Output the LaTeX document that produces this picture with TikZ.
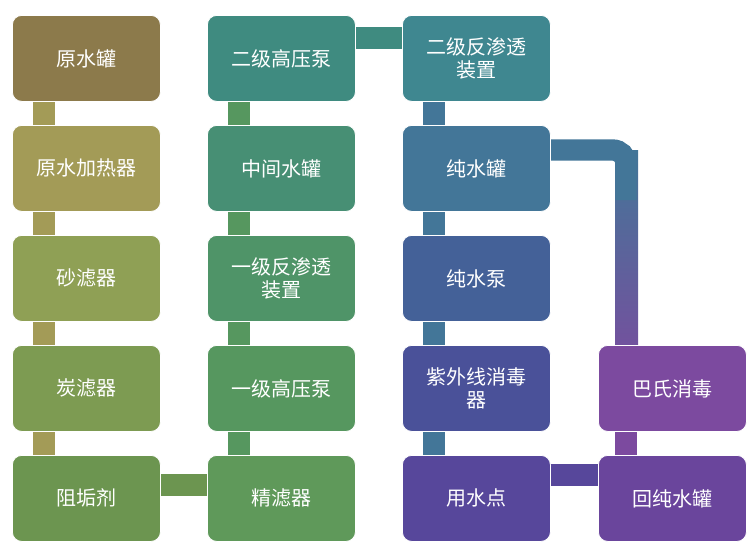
\documentclass[tikz,border=0pt]{standalone}
\usepackage{fontspec}
\setmainfont{Noto Sans CJK SC}
\begin{document}
\begin{tikzpicture}[x=0.75pt,y=-0.75pt,
 box/.style={rounded corners=7pt,draw=white,line width=0.6pt,minimum width=111pt,minimum height=64.5pt,text=white,font=\fontsize{15}{17}\selectfont,align=center,inner sep=2pt,anchor=north west},
 bar/.style={line width=16pt}]
\useasboundingbox (0,0) rectangle (756,554);
\definecolor{c1}{HTML}{8C7A4B}\definecolor{c2}{HTML}{A39B57}\definecolor{c3}{HTML}{8FA055}
\definecolor{c4}{HTML}{7D9B52}\definecolor{c5}{HTML}{6C9550}\definecolor{c6}{HTML}{5F995A}
\definecolor{c7}{HTML}{56975F}\definecolor{c8}{HTML}{4F9468}\definecolor{c9}{HTML}{478F74}
\definecolor{c10}{HTML}{3F8B80}\definecolor{c11}{HTML}{3F8790}\definecolor{c12}{HTML}{437698}
\definecolor{c13}{HTML}{446198}\definecolor{c14}{HTML}{4A5199}\definecolor{c15}{HTML}{57479B}
\definecolor{c16}{HTML}{6A459C}\definecolor{c17}{HTML}{7C4A9F}
% connectors (drawn first)
\coordinate (k1) at (44,60);\coordinate (k2) at (44,500);
\coordinate (h1) at (100,485);\coordinate (h2) at (270,485);
\coordinate (k3) at (239,60);
\coordinate (h3) at (300,38);\coordinate (h4) at (450,38);
\coordinate (k4) at (434,60);\coordinate (k5) at (434,500);
\coordinate (h5) at (480,475);\coordinate (h6) at (660,475);
\coordinate (k6) at (626,380);\coordinate (k7) at (626,500);
\coordinate (r1) at (500,150);\coordinate (rc) at (626,150);
\draw[bar,c2] (k1) -- (k2);
\draw[bar,c5] (h1) -- (h2);
\draw[bar,c7] (k3) -- (239,500);
\draw[bar,c10] (h3) -- (h4);
\draw[bar,c12] (k4) -- (k5);
\draw[bar,c15] (h5) -- (h6);
\draw[bar,c17] (k6) -- (k7);
\shade[top color=c12,bottom color=c17] (615,150) rectangle (638,390);
\draw[bar,c12,rounded corners=10pt] (r1) -- (rc) -- (626,200);
% boxes
\node[box,fill=c1] (a1) at (12,15) {原水罐};
\node[box,fill=c2] (a2) at (12,125) {原水加热器};
\node[box,fill=c3] (a3) at (12,235) {砂滤器};
\node[box,fill=c4] (a4) at (12,345) {炭滤器};
\node[box,fill=c5] (a5) at (12,455) {阻垢剂};
\node[box,fill=c6] (b5) at (207,455) {精滤器};
\node[box,fill=c7] (b4) at (207,345) {一级高压泵};
\node[box,fill=c8] (b3) at (207,235) {一级反渗透\\装置};
\node[box,fill=c9] (b2) at (207,125) {中间水罐};
\node[box,fill=c10] (b1) at (207,15) {二级高压泵};
\node[box,fill=c11] (d1) at (402,15) {二级反渗透\\装置};
\node[box,fill=c12] (d2) at (402,125) {纯水罐};
\node[box,fill=c13] (d3) at (402,235) {纯水泵};
\node[box,fill=c14] (d4) at (402,345) {紫外线消毒\\器};
\node[box,fill=c15] (d5) at (402,455) {用水点};
\node[box,fill=c16] (e5) at (598,455) {回纯水罐};
\node[box,fill=c17] (e4) at (598,345) {巴氏消毒};
\end{tikzpicture}
\end{document}
